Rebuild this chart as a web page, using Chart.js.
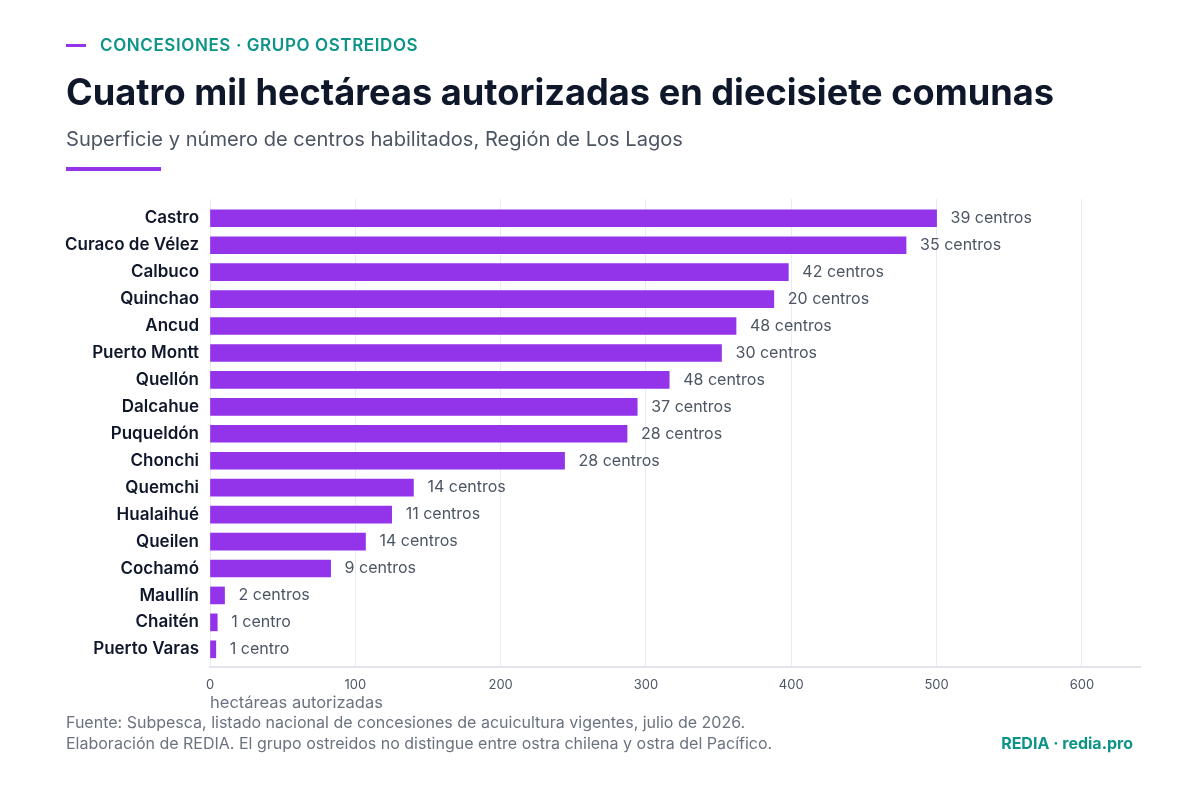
<!DOCTYPE html>
<html lang="es">
<head>
<meta charset="utf-8">
<script src="https://cdn.jsdelivr.net/npm/chart.js@4.4.1/dist/chart.umd.min.js"></script>
<style>
  html, body { margin: 0; padding: 0; background: #ffffff; }
  body { width: 1200px; height: 800px; position: relative; overflow: hidden; font-family: Inter, "Noto Sans", sans-serif; }
  #chart { position: absolute; left: 0; top: 0; }
  .abs { position: absolute; white-space: nowrap; }
  #kline { left: 66px; top: 44px; width: 20px; height: 3px; background: #9333ea; }
  #kicker { left: 100px; top: 35px; line-height: 20px; font-size: 17px; font-weight: 600; letter-spacing: 0.6px; color: #0d9488; }
  #title { left: 66px; top: 70px; line-height: 44px; font-size: 36.2px; font-weight: 700; color: #0f172a; }
  #subtitle { left: 66px; top: 127px; line-height: 24px; font-size: 20.1px; font-weight: 400; color: #4b5563; }
  #rule { left: 66px; top: 167px; width: 95px; height: 4px; background: #9333ea; }
  #source { left: 66px; top: 712px; line-height: 21px; font-size: 16px; color: #6b7280; }
  #brand { right: 67px; top: 733px; line-height: 21px; font-size: 16px; font-weight: 700; color: #0d9488; }
</style>
</head>
<body>
<canvas id="chart" width="1200" height="800"></canvas>
<div class="abs" id="kline"></div>
<div class="abs" id="kicker">CONCESIONES · GRUPO OSTREIDOS</div>
<div class="abs" id="title">Cuatro mil hectáreas autorizadas en diecisiete comunas</div>
<div class="abs" id="subtitle">Superficie y número de centros habilitados, Región de Los Lagos</div>
<div class="abs" id="rule"></div>
<div class="abs" id="source">Fuente: Subpesca, listado nacional de concesiones de acuicultura vigentes, julio de 2026.<br>Elaboración de REDIA. El grupo ostreidos no distingue entre ostra chilena y ostra del Pacífico.</div>
<div class="abs" id="brand">REDIA · redia.pro</div>
<script>
const comunas = ["Castro", "Curaco de Vélez", "Calbuco", "Quinchao", "Ancud", "Puerto Montt", "Quellón", "Dalcahue", "Puqueldón", "Chonchi", "Quemchi", "Hualaihué", "Queilen", "Cochamó", "Maullín", "Chaitén", "Puerto Varas"];
const hectareas = [500, 479, 398, 388, 362, 352, 316, 294, 287, 244, 140, 125, 107, 83, 10, 5, 4];
const centros = [39, 35, 42, 20, 48, 30, 48, 37, 28, 28, 14, 11, 14, 9, 2, 1, 1];
const xTickValues = [0, 100, 200, 300, 400, 500, 600];

const PURPLE = "#9333ea";
const FONT = "Inter, 'Noto Sans', sans-serif";

const valueLabels = {
  id: "valueLabels",
  afterDatasetsDraw(chart) {
    const ctx = chart.ctx;
    const meta = chart.getDatasetMeta(0);
    ctx.save();
    ctx.font = "16px " + FONT;
    ctx.fillStyle = "#4b5563";
    ctx.textAlign = "left";
    ctx.textBaseline = "middle";
    meta.data.forEach((bar, i) => {
      const n = centros[i];
      ctx.fillText(n + (n === 1 ? " centro" : " centros"), bar.x + 14, bar.y);
    });
    ctx.restore();
  }
};

new Chart(document.getElementById("chart"), {
  type: "bar",
  data: {
    datasets: [{
      data: hectareas.map((v, i) => ({ x: v, y: i })),
      backgroundColor: PURPLE,
      borderWidth: 0,
      barThickness: 17
    }]
  },
  options: {
    indexAxis: "y",
    responsive: false,
    animation: false,
    devicePixelRatio: 1,
    layout: { padding: { top: 199, right: 60, bottom: 87, left: 0 } },
    plugins: { legend: { display: false }, tooltip: { enabled: false } },
    scales: {
      x: {
        type: "linear",
        min: 0,
        max: 640,
        afterBuildTicks(scale) { scale.ticks = xTickValues.map(v => ({ value: v })); },
        afterFit(scale) { scale.height = 46; },
        grid: { color: "#e8ebf0", lineWidth: 1, drawTicks: false },
        border: { display: true, color: "#e2e6ec", width: 2 },
        ticks: { color: "#4b5563", font: { family: FONT, size: 13 }, padding: 10 },
        title: {
          display: true,
          text: "hectáreas autorizadas",
          align: "start",
          color: "#6b7280",
          font: { family: FONT, size: 16.5 },
          padding: { top: 0, bottom: 0 }
        }
      },
      y: {
        type: "linear",
        reverse: true,
        offset: false,
        bounds: "data",
        min: -0.716,
        max: 16.657,
        afterBuildTicks(scale) { scale.ticks = comunas.map((_, i) => ({ value: i })); },
        afterFit(scale) { scale.width = 210; },
        grid: { display: false, drawTicks: false, offset: false },
        border: { display: false },
        ticks: {
          autoSkip: false,
          padding: 11,
          color: "#0f172a",
          font: { family: FONT, size: 17, weight: "600" },
          callback: (v) => comunas[v] ?? ""
        }
      }
    }
  },
  plugins: [valueLabels]
});
</script>
</body>
</html>
